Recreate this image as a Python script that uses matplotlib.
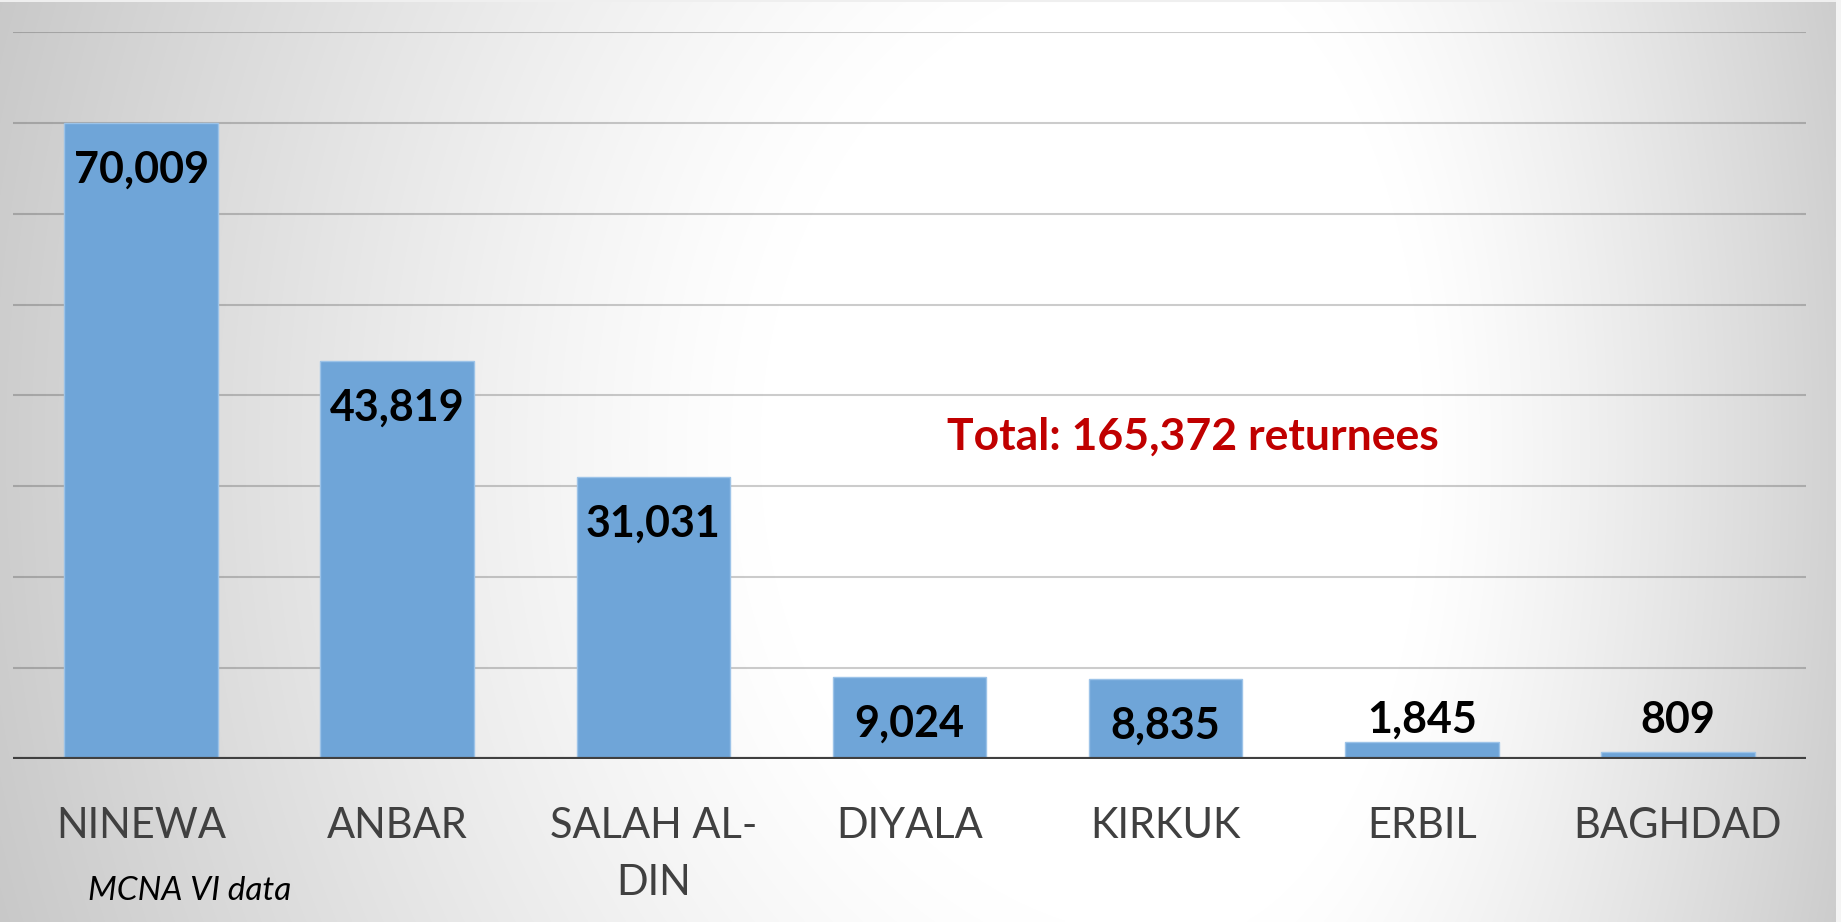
import numpy as np
import matplotlib
matplotlib.use("Agg")
import matplotlib.pyplot as plt

categories = ["NINEWA", "ANBAR", "SALAH AL-\nDIN", "DIYALA", "KIRKUK", "ERBIL", "BAGHDAD"]
values = [70009, 43819, 31031, 9024, 8835, 1845, 809]
total_label = "Total: 165,372 returnees"
source_note = "MCNA VI data"
y_max = 80000
y_step = 10000

W, H = 1841, 922
DPI = 100
PX = 72.0 / DPI  # points per pixel

plt.rcParams["font.family"] = ["Lato", "DejaVu Sans"]

fig = plt.figure(figsize=(W / DPI, H / DPI), dpi=DPI)

# background radial gradient: white centre, gray sides
bg = fig.add_axes([0, 0, 1, 1], zorder=-10)
yy, xx = np.mgrid[0:H, 0:W].astype(float)
cx, cy = 1180.0, 450.0
dx = np.where(xx < cx, (xx - cx) / 1200.0, (xx - cx) / 700.0)
dy = (yy - cy) / 1400.0
d = np.sqrt(dx ** 2 + dy ** 2)
t = np.clip((d - 0.35) / 0.65, 0, 1.3)
v = 1.0 - 0.2 * t ** 1.2
img = np.dstack([v, v, v])
# light outer frame (slide edge)
img[:3, :, :] = 0.94
img[:, 1836:, :] = 0.96
bg.imshow(img, aspect="auto", interpolation="bilinear", extent=[0, W, H, 0])
bg.set_xlim(0, W)
bg.set_ylim(H, 0)
bg.axis("off")

left, right, top, bottom = 13, 1806, 32, 759
ax = fig.add_axes([left / W, 1 - bottom / H, (right - left) / W, (bottom - top) / H])
ax.set_facecolor("none")
x = np.arange(len(categories))
ax.set_xlim(-0.5, len(categories) - 0.5)
ax.set_ylim(0, y_max)

for gy in np.arange(y_step, y_max + 1, y_step):
    ax.axhline(gy, color="black", alpha=0.2, lw=1.5, zorder=1)

ax.bar(x, values, width=0.6, color="#6FA5D8", edgecolor="#9CC3E8", linewidth=1.0, zorder=2)
ax.axhline(0, color="#404040", lw=3.0, zorder=3)

for s in ax.spines.values():
    s.set_visible(False)
ax.set_xticks([])
ax.set_yticks([])

# value labels
for xi, val in zip(x, values):
    txt = f"{val:,}"
    if val > 5000:
        ax.annotate(txt, xy=(xi, val), xytext=(0, -60 * PX), textcoords="offset points",
                    ha="center", va="baseline", fontsize=31, fontweight="bold",
                    color="black", zorder=4)
    else:
        ax.annotate(txt, xy=(xi, 0), xytext=(0, 26 * PX), textcoords="offset points",
                    ha="center", va="baseline", fontsize=31, fontweight="bold",
                    color="black", zorder=4)

# category labels
for xi, cat in zip(x, categories):
    for li, line in enumerate(cat.split("\n")):
        ax.annotate(line, xy=(xi, 0), xycoords=("data", "axes fraction"),
                    xytext=(0, -(79 + 57 * li) * PX), textcoords="offset points",
                    ha="center", va="baseline", fontsize=30, color="#404040")

fig.text(1193 / W, 1 - 450 / H, total_label, ha="center", va="baseline",
         fontsize=32, fontweight="bold", color="#C00000")
fig.text(88 / W, 1 - 900 / H, source_note, ha="left", va="baseline",
         fontsize=24, style="italic", color="black")

fig.savefig("out.png", dpi=DPI)
